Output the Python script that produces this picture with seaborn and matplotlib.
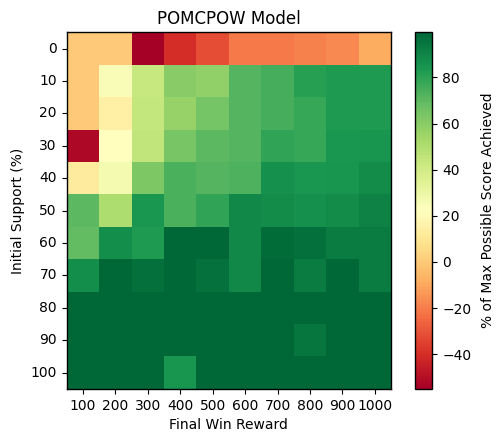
import numpy as np
import pandas as pd
import matplotlib
matplotlib.use("Agg")
import matplotlib.pyplot as plt
import seaborn as sns

final_win_reward = [100, 200, 300, 400, 500, 600, 700, 800, 900, 1000]
initial_support = [0, 10, 20, 30, 40, 50, 60, 70, 80, 90, 100]

row_0 = [0, 0, -55, -40, -32, -21, -21, -19, -17, -9]
row_10 = [0, 25, 43, 60, 58, 72, 75, 81, 83, 83]
row_20 = [0, 15, 44, 57, 65, 72, 75, 78, 83, 83]
row_30 = [-52, 22, 45, 64, 70, 72, 79, 78, 84, 85]
row_40 = [12, 27, 63, 74, 72, 73, 86, 84, 85, 88]
row_50 = [70, 51, 84, 74, 79, 89, 88, 86, 88, 91]
row_60 = [69, 87, 83, 99, 99, 89, 98, 97, 93, 93]
row_70 = [87, 99, 97, 99, 96, 89, 99, 93, 99, 93]
row_80 = [99, 99, 99, 99, 99, 99, 99, 99, 99, 99]
row_90 = [99, 99, 99, 99, 99, 99, 99, 95, 99, 99]
row_100 = [99, 99, 99, 85, 99, 99, 99, 99, 99, 99]

rows = [row_0, row_10, row_20, row_30, row_40, row_50, row_60, row_70,
        row_80, row_90, row_100]
df = pd.DataFrame(rows, index=initial_support, columns=final_win_reward)

fig = plt.figure(figsize=(4.97, 4.32), dpi=100)
ax = fig.add_axes([0.134, 0.1, 0.653, 0.825])
cax = fig.add_axes([0.835, 0.1, 0.035, 0.825])

sns.heatmap(df, cmap="RdYlGn", vmin=-55, vmax=99.5, ax=ax, cbar_ax=cax,
            cbar_kws={"ticks": [-40, -20, 0, 20, 40, 60, 80]})

for s in ax.spines.values():
    s.set_visible(True)
    s.set_linewidth(1.0)
    s.set_color("black")
cb = ax.collections[0].colorbar
cb.outline.set_linewidth(1.0)
cb.outline.set_edgecolor("black")
cb.set_label("% of Max Possible Score Achieved", labelpad=7)

ax.set_title("POMCPOW Model")
ax.set_xlabel("Final Win Reward")
ax.set_ylabel("Initial Support (%)")
ax.tick_params(axis="y", rotation=0)
ax.tick_params(axis="x", rotation=0)

fig.savefig("out.png", dpi=100)
